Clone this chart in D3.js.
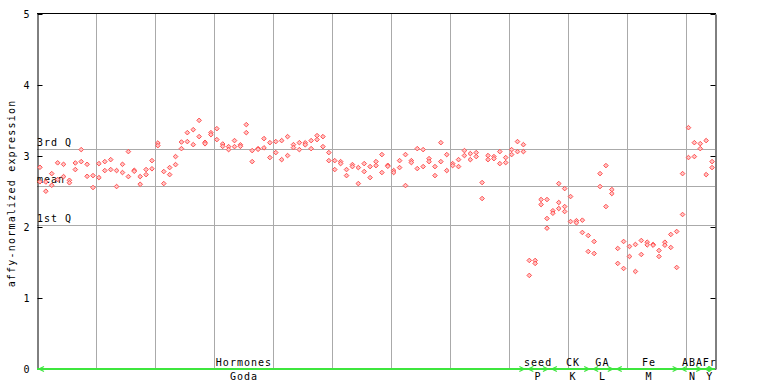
<!DOCTYPE html>
<html><head><meta charset="utf-8">
<script src="https://cdn.jsdelivr.net/npm/d3@7"></script>
<style>
body{margin:0;background:#fff}
svg{display:block;background:#fff}
text{font-family:"DejaVu Sans Mono",monospace;font-size:10px;letter-spacing:1px;fill:#000}
</style>
</head><body>
<svg id="chart" width="768" height="384"></svg>
<script>
// ---- data ----
const yTicks = [0, 1, 2, 3, 4, 5];
const sampleCount = 115;
const rep1 = [2.841,2.634,2.752,2.904,2.883,2.658,2.902,3.090,2.883,2.724,2.893,2.921,2.949,2.795,2.883,3.062,2.799,2.710,2.809,2.935,
3.183,2.781,2.837,2.992,3.197,3.329,3.371,3.502,3.193,3.329,3.385,3.169,3.132,3.217,3.158,3.442,3.076,3.104,3.245,3.188,
3.203,3.217,3.273,3.160,3.188,3.186,3.217,3.287,3.273,3.048,2.935,2.921,2.809,2.879,2.837,2.893,2.851,2.921,3.020,2.869,
2.795,2.935,3.020,2.935,3.104,3.090,2.963,2.851,3.188,3.020,2.893,2.949,3.076,3.034,3.048,2.626,3.006,2.992,3.062,2.978,
3.090,3.203,3.160,1.529,1.529,2.387,2.387,2.229,2.612,2.541,2.429,2.089,2.096,1.880,1.796,2.752,2.865,2.527,1.698,1.796,
1.726,1.754,1.810,1.786,1.754,1.669,1.786,1.895,1.937,2.752,3.399,3.188,3.174,3.217,2.921];
const rep2 = [2.637,2.504,2.588,2.668,2.710,2.623,2.809,2.921,2.714,2.556,2.696,2.795,2.809,2.570,2.767,2.710,2.785,2.602,2.738,2.820,
3.146,2.612,2.738,2.879,3.104,3.203,3.160,3.273,3.172,3.301,3.231,3.136,3.090,3.132,3.136,3.329,2.921,3.094,3.115,2.978,
3.048,2.949,3.006,3.118,3.090,3.158,3.104,3.231,3.132,2.935,2.809,2.893,2.724,2.851,2.612,2.781,2.696,2.865,2.767,2.855,
2.767,2.837,2.584,2.907,2.823,2.851,2.921,2.724,2.921,2.795,2.865,2.851,3.006,2.949,2.992,2.401,2.949,2.963,2.893,2.907,
3.020,3.062,3.062,1.318,1.487,2.316,2.120,2.194,2.345,2.288,2.077,2.060,1.923,1.655,1.627,2.570,2.288,2.471,1.487,1.416,
1.585,1.374,1.613,1.748,1.744,1.585,1.744,1.712,1.430,2.176,2.978,2.992,3.104,2.738,2.837];
const extraIdx = [86, 88, 89];
const extraVal = [1.983, 2.260, 2.218];

const statNames = ["3rd Q", "mean", "1st Q"];
const statValues = [3.104, 2.584, 2.035];

const groupNames = ["Hormones", "seed", "CK", "GA", "Fe", "ABA", "Fr"];
const groupCodes = ["Goda", "P", "K", "L", "M", "N", "Y"];
const groupStart = [0, 83, 87, 94, 98, 109, 113];
const groupEnd   = [82, 86, 93, 97, 108, 112, 114];
const groupLabelAt = [35.1, 85, 90.9, 95.9, 103.8, 111.2, 114.1];

const yLabel = "affy-normalized expression";

// ---- chart ----
const svg = d3.select("#chart");
const L = 37, R = 715, T = 14, B = 369;
const x = d3.scaleLinear().domain([0, sampleCount]).range([L, R]);
const y = d3.scaleLinear().domain([0, 5]).range([B, T]);
const crisp = v => Math.round(v) + 0.5;

// vertical grid every 10 samples
svg.append("g").selectAll("line").data(d3.range(10, sampleCount, 10)).join("line")
  .attr("x1", d => crisp(x(d))).attr("x2", d => crisp(x(d)))
  .attr("y1", T).attr("y2", B)
  .attr("stroke", "#aaaaaa").attr("stroke-width", 1);

// stat lines
svg.append("g").selectAll("line").data(statValues).join("line")
  .attr("x1", L).attr("x2", R)
  .attr("y1", d => crisp(y(d))).attr("y2", d => crisp(y(d)))
  .attr("stroke", "#aaaaaa").attr("stroke-width", 1);

// frame top
svg.append("line").attr("x1", L).attr("x2", R + 1).attr("y1", crisp(T) - 1).attr("y2", crisp(T) - 1)
  .attr("stroke", "#000");

// left axis
const ya = svg.append("g").attr("transform", `translate(${L + 0.5},0)`)
  .call(d3.axisLeft(y).tickValues(yTicks).tickFormat(d3.format("d")).tickSizeInner(-5).tickSizeOuter(0).tickPadding(8));
ya.select(".domain").attr("stroke", "#000");
ya.selectAll(".tick line").attr("stroke", "#000");
ya.selectAll(".tick text").attr("font-family", "DejaVu Sans Mono").attr("font-size", 10).style("letter-spacing", "0px");

// right axis
const yr = svg.append("g").attr("transform", `translate(${R + 0.5},0)`)
  .call(d3.axisRight(y).tickValues(yTicks).tickFormat("").tickSizeInner(-5).tickSizeOuter(0));
yr.select(".domain").attr("stroke", "#000");
yr.selectAll(".tick line").attr("stroke", "#000");

// stat labels
svg.append("g").selectAll("text").data(statNames).join("text")
  .attr("x", L).attr("y", (d, i) => y(statValues[i]) - 3)
  .text(d => d);

// points
const diamond = "M0,-2.3L2.3,0L0,2.3L-2.3,0Z";
const pts = [];
rep1.forEach((v, i) => pts.push([i, v]));
rep2.forEach((v, i) => pts.push([i, v]));
extraIdx.forEach((idx, k) => pts.push([idx, extraVal[k]]));
svg.append("g").selectAll("path").data(pts).join("path")
  .attr("d", diamond)
  .attr("transform", d => `translate(${x(d[0] + 0.5)},${y(d[1])})`)
  .attr("fill", "#ffc4c4").attr("stroke", "#ff4f4f").attr("stroke-width", 1);

// category bar
const green = "#3ee63e";
svg.append("line").attr("x1", L).attr("x2", R).attr("y1", B).attr("y2", B)
  .attr("stroke", green).attr("stroke-width", 2);
const arrows = svg.append("g").attr("fill", "none").attr("stroke", green).attr("stroke-width", 1.3);
groupStart.forEach((s, i) => {
  const xs = x(s) + 2, xe = x(groupEnd[i] + 1) - 2;
  arrows.append("path").attr("d", `M${xs + 5},${B - 2.5}L${xs},${B}L${xs + 5},${B + 2.5}`);
  arrows.append("path").attr("d", `M${xe - 5},${B - 2.5}L${xe},${B}L${xe - 5},${B + 2.5}`);
});
svg.append("g").selectAll("text").data(groupNames).join("text")
  .attr("x", (d, i) => x(groupLabelAt[i])).attr("y", B - 3)
  .attr("text-anchor", "middle").text(d => d);
svg.append("g").selectAll("text").data(groupCodes).join("text")
  .attr("x", (d, i) => x(groupLabelAt[i])).attr("y", B + 11)
  .attr("text-anchor", "middle").text(d => d);

// y label
svg.append("text")
  .attr("transform", `translate(15,${(T + B) / 2 + 2}) rotate(-90)`)
  .attr("text-anchor", "middle").style("letter-spacing", "1.2px")
  .text(yLabel);
</script>
</body></html>
